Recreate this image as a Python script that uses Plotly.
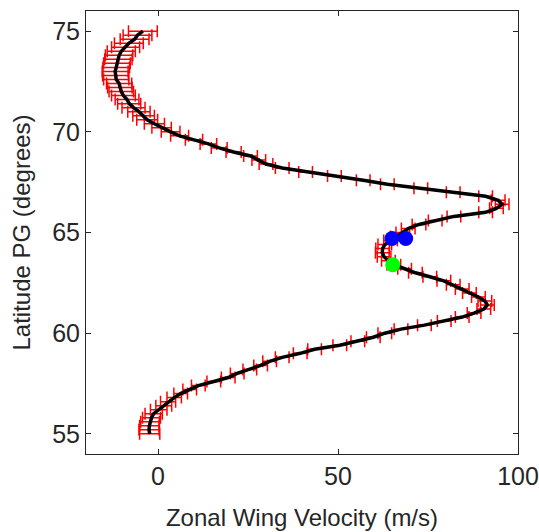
import plotly.graph_objects as go

latitude = [round(55.0 + 0.2 * i, 1) for i in range(101)]
velocity = [
    -2.3, -2.5, -2.4, -2.2, -1.8, -1.2, 0.2, 1.6, 2.8, 4.5,
    6.3, 8.8, 11.2, 15.5, 19.5, 22.0, 25.5, 28.5, 31.0, 34.5,
    39.5, 43.5, 50.5, 55.5, 59.8, 63.0, 67.5, 74.0, 79.5, 84.5,
    87.8, 90.5, 91.5, 90.8, 89.0, 86.5, 84.5, 82.0, 79.4, 75.5,
    71.5, 68.5, 65.5, 64.0, 62.8, 62.3, 62.4, 63.0, 64.6, 66.5,
    68.0, 69.5, 72.5, 77.0, 82.2, 91.0, 94.0, 95.6, 94.5, 91.0,
    82.0, 73.0, 63.7, 57.0, 49.0, 41.0, 34.5, 30.0, 28.0, 25.7,
    21.0, 17.0, 14.0, 10.0, 6.0, 3.5, 1.0, -1.0, -3.0, -4.0,
    -5.3, -6.8, -8.0, -8.6, -9.6, -10.2, -10.6, -10.8, -11.6, -11.8,
    -11.9, -11.6, -11.4, -11.0, -10.8, -10.2, -9.0, -8.1, -6.5, -5.7,
    -4.2,
]
velocity_err = (
    [2.8, 2.8, 2.7, 2.6, 2.5, 2.4, 2.3, 2.2, 2.1, 2.0]
    + [1.9] * 60
    + [2.1, 2.2, 2.3, 2.4, 2.5, 2.6, 2.7, 2.8, 2.9, 3.0]
    + [3.1, 3.2, 3.2, 3.3, 3.3, 3.4, 3.4, 3.5, 3.5, 3.6]
    + [3.6, 3.7, 3.7, 3.8, 3.8, 3.9, 3.9, 4.0, 4.0, 4.0, 4.0]
)
blue_x = [65.0, 68.8]
blue_y = [64.7, 64.7]
green_x = [65.2]
green_y = [63.4]

x_ticks = [0, 50, 100]
y_ticks = [55, 60, 65, 70, 75]

axis_color = "#262626"
font = "Liberation Sans, Arial, sans-serif"

fig = go.Figure()
fig.add_trace(go.Scatter(
    x=velocity, y=latitude, mode="markers",
    marker=dict(size=1, color="red"),
    error_x=dict(type="data", array=velocity_err, color="red", thickness=1.5, width=6),
    showlegend=False, hoverinfo="skip",
))
fig.add_trace(go.Scatter(
    x=velocity, y=latitude, mode="lines",
    line=dict(color="black", width=3.5), showlegend=False,
))
fig.add_trace(go.Scatter(
    x=blue_x, y=blue_y, mode="markers",
    marker=dict(size=15, color="#0000ff"), showlegend=False,
))
fig.add_trace(go.Scatter(
    x=green_x, y=green_y, mode="markers",
    marker=dict(size=15, color="#00ff00"), showlegend=False,
))

fig.update_layout(
    width=539, height=532,
    margin=dict(l=86, r=21, t=11, b=78),
    paper_bgcolor="white", plot_bgcolor="white",
    font=dict(family=font, color=axis_color),
)
fig.update_xaxes(
    range=[-20, 100], tickvals=x_ticks, ticks="inside", ticklen=5,
    tickcolor=axis_color, showline=True, linecolor=axis_color, linewidth=1,
    mirror="ticks", showgrid=False, zeroline=False, automargin=False,
    tickfont=dict(size=25, color=axis_color),
    title=dict(text="Zonal Wing Velocity (m/s)", font=dict(size=24, color=axis_color), standoff=20),
)
fig.update_yaxes(
    range=[54, 76], tickvals=y_ticks, ticks="inside", ticklen=5,
    tickcolor=axis_color, showline=True, linecolor=axis_color, linewidth=1,
    mirror="ticks", showgrid=False, zeroline=False, automargin=False,
    tickfont=dict(size=25, color=axis_color),
    title=dict(text="Latitude PG (degrees)", font=dict(size=24, color=axis_color), standoff=14),
)

fig.write_html("out.html")
